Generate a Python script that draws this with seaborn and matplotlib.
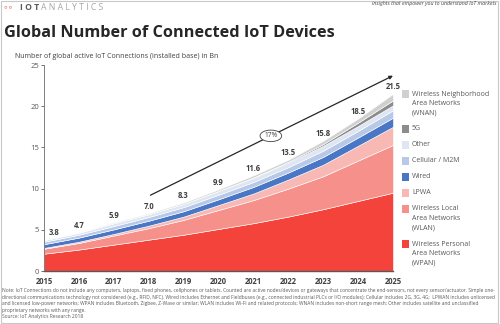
import matplotlib
matplotlib.use("Agg")
import matplotlib.pyplot as plt
import seaborn as sns
import numpy as np
from matplotlib.patches import Ellipse, Rectangle

years = [2015, 2016, 2017, 2018, 2019, 2020, 2021, 2022, 2023, 2024, 2025]
totals = [3.8, 4.7, 5.9, 7.0, 8.3, 9.9, 11.6, 13.5, 15.8, 18.5, 21.5]
wpan = [2.1, 2.6, 3.2, 3.8, 4.4, 5.1, 5.8, 6.6, 7.5, 8.5, 9.5]
wlan = [0.6, 0.8, 1.1, 1.4, 1.8, 2.3, 2.8, 3.4, 4.0, 4.9, 5.8]
lpwa = [0.1, 0.15, 0.2, 0.3, 0.4, 0.6, 0.8, 1.1, 1.4, 1.8, 2.2]
wired = [0.45, 0.5, 0.55, 0.6, 0.65, 0.7, 0.8, 0.85, 0.95, 1.0, 1.1]
cellular = [0.3, 0.35, 0.4, 0.45, 0.5, 0.55, 0.6, 0.65, 0.75, 0.8, 0.9]
other = [0.2, 0.25, 0.35, 0.35, 0.4, 0.45, 0.5, 0.55, 0.6, 0.6, 0.6]
g5 = [0, 0, 0, 0, 0, 0.02, 0.05, 0.1, 0.2, 0.4, 0.6]
wnan = [0.05, 0.05, 0.1, 0.1, 0.15, 0.18, 0.25, 0.25, 0.4, 0.5, 0.8]
cagr_label = "17%"

series_names = ["Wireless Personal\nArea Networks\n(WPAN)",
                "Wireless Local\nArea Networks\n(WLAN)",
                "LPWA", "Wired", "Cellular / M2M", "Other", "5G",
                "Wireless Neighborhood\nArea Networks\n(WNAN)"]
series = [wpan, wlan, lpwa, wired, cellular, other, g5, wnan]
colors = ["#f4433b", "#f6908b", "#f8b8b3", "#4a76c6", "#b8c9e8", "#dee6f3", "#8c8c8c", "#d0d0d0"]

sns.set_theme(style="white")
plt.rcParams['font.family'] = ['Open Sans', 'DejaVu Sans']

fig = plt.figure(figsize=(5.0, 3.24), dpi=100)
W, H = 500, 324
ax = fig.add_axes([44 / W, 1 - 271 / H, (393 - 44) / W, (271 - 65) / H])

ax.stackplot(years, *series, colors=colors, edgecolor="white", linewidth=0.4)

ax.set_xlim(2015, 2025)
ax.set_ylim(0, 25)
ax.set_yticks([0, 5, 10, 15, 20, 25])
ax.set_xticks(years)
ax.tick_params(axis="y", labelsize=5.5, colors="#595959", length=2.5, width=0.6, left=True, pad=1)
ax.tick_params(axis="x", labelsize=5.5, colors="#404040", length=0, pad=4)
for lab in ax.get_xticklabels():
    lab.set_fontweight("bold")
for s in ["top", "right"]:
    ax.spines[s].set_visible(False)
ax.spines["left"].set_color("#7f7f7f")
ax.spines["left"].set_linewidth(0.7)
ax.spines["bottom"].set_color("#595959")
ax.spines["bottom"].set_linewidth(1.0)
ax.set_facecolor("white")

for i, (yr, t) in enumerate(zip(years, totals)):
    xx = yr + (0.3 if i == 0 else 0)
    ax.text(xx, t + 0.85, f"{t:.1f}", ha="center", va="center", fontsize=5.5,
            fontweight="bold", color="#404040")

ax.annotate("", xy=(2025, 23.7), xytext=(2018.05, 9.2),
            arrowprops=dict(arrowstyle="-|>", color="#262626", lw=0.9,
                            mutation_scale=5, shrinkA=0, shrinkB=0),
            annotation_clip=False)
ell = Ellipse((2021.5, 16.4), 0.62, 1.4, facecolor="white", edgecolor="#404040", lw=0.6, zorder=5)
ax.add_patch(ell)
ax.text(2021.5, 16.4, cagr_label, ha="center", va="center", fontsize=4.8, color="#404040", zorder=6)

# legend (top entry first), drawn manually to match the reference spacing
y = 94.0
line_h = 9.5
for name, col in zip(series_names[::-1], colors[::-1]):
    fig.patches.append(Rectangle((402 / W, 1 - (y + 3.6) / H), 7.3 / W, 7.2 / H,
                                 transform=fig.transFigure, facecolor=col, edgecolor="none"))
    lines = name.split("\n")
    for k, ln in enumerate(lines):
        fig.text(412 / W, 1 - (y + k * line_h) / H, ln, fontsize=5, color="#595959",
                 ha="left", va="center")
    y += (len(lines) - 1) * line_h + 16

fig.text(4 / W, 1 - 37 / H, "Global Number of Connected IoT Devices", fontsize=11.7,
         fontweight="bold", color="#262626", ha="left", va="baseline")
fig.text(15 / W, 1 - 58 / H, "Number of global active IoT Connections (installed base) in Bn",
         fontsize=5, color="#404040", ha="left", va="baseline")
fig.text(20 / W, 1 - 7 / H, "I O T", fontsize=6.2, fontweight="bold", color="#595959",
         ha="left", va="center")
fig.text(41 / W, 1 - 7 / H, "A N A L Y T I C S", fontsize=6.2, color="#a6a6a6",
         ha="left", va="center")
fig.text(3 / W, 1 - 7 / H, "\u2218\u2218", fontsize=6.5, color="#f08080", ha="left", va="center")
fig.text(497 / W, 1 - 4 / H, "insights that empower you to understand IoT markets",
         fontsize=3.8, style="italic", color="#404040", ha="right", va="center")

notes = ("Note: IoT Connections do not include any computers, laptops, fixed phones, cellphones or tablets. Counted are active nodes/devices or gateways that concentrate the end-sensors, not every sensor/actuator. Simple one-\n"
         "directional communications technology not considered (e.g., RFID, NFC). Wired includes Ethernet and Fieldbuses (e.g., connected industrial PLCs or I/O modules); Cellular includes 2G, 3G, 4G;  LPWAN includes unlicensed\n"
         "and licensed low-power networks; WPAN includes Bluetooth, Zigbee, Z-Wave or similar; WLAN includes Wi-Fi and related protocols; WNAN includes non-short range mesh; Other includes satellite and unclassified\n"
         "proprietary networks with any range.\n"
         "Source: IoT Analytics Research 2018")
fig.text(2 / W, 1 - 288 / H, notes, fontsize=3.5, color="#595959", ha="left", va="top",
         linespacing=1.4)

fig.patches.append(Rectangle((0.002, 0.002), 0.994, 0.994, transform=fig.transFigure,
                             fill=False, edgecolor="#c8c8c8", lw=0.8))

fig.savefig("out.png", dpi=100, facecolor="white")
